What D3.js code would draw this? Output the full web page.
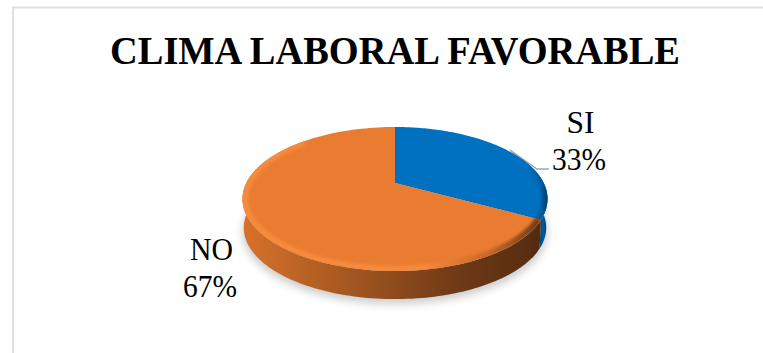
<!DOCTYPE html>
<html>
<head>
<meta charset="utf-8">
<script src="https://cdn.jsdelivr.net/npm/d3@7"></script>
<style>
html, body { margin: 0; padding: 0; background: #fff; }
svg { display: block; font-family: "Liberation Serif", serif; }
</style>
</head>
<body>
<svg id="chart" width="763" height="353"></svg>
<script>
const chartTitle = "CLIMA LABORAL FAVORABLE";
const categories = ["SI", "NO"];
const values = [33, 67];
const sliceColors = ["#0070c0", "#e97c30"];

const svg = d3.select("#chart");
const defs = svg.append("defs");

// Frame: top and left rules only
svg.append("path").attr("d", "M13 353V7.5H763").attr("fill", "none")
  .attr("stroke", "#e0e0e0").attr("stroke-width", 2);

svg.append("text").attr("x", 395).attr("y", 64).attr("text-anchor", "middle")
  .attr("font-size", 40).attr("font-weight", "bold").attr("fill", "#000")
  .attr("textLength", 570).attr("lengthAdjust", "spacingAndGlyphs").text(chartTitle);

// Pie lying on its back, seen in perspective: the hub sits above the ellipse centre
const hub = { x: 395, y: 183 };
const yFar = -56, yNear = 88;
const k = (yFar + yNear) / (yNear - yFar);
const a = yNear * (1 - k);
const c = 152.5 * Math.sqrt(1 - k * k);
const depth = 29;

function rimPoint(theta, drop = 0, scale = 1) {
  const u = Math.sin(theta) * scale, v = -Math.cos(theta) * scale;
  const w = 1 - k * v;
  return [hub.x + c * u / w, hub.y + a * v / w + drop];
}
const line = d3.line();
const arcAngles = (t0, t1) => d3.range(0, 121).map(i => t0 + (t1 - t0) * i / 120);

const arcs = d3.pie().sort(null).value(d => d)(values);
const TAU = Math.PI * 2;

// Soft shadow under the disc
defs.append("filter").attr("id", "soft").attr("x", "-20%").attr("y", "-20%")
  .attr("width", "140%").attr("height", "140%")
  .append("feGaussianBlur").attr("stdDeviation", 4);
svg.append("path")
  .attr("d", line(arcAngles(0, TAU).map(t => rimPoint(t, depth + 4, 1))) + "Z")
  .attr("fill", "#000").attr("opacity", 0.2).attr("filter", "url(#soft)");

// Side wall gradients, shaded left to right
function wallGradient(id, stops) {
  const g = defs.append("linearGradient").attr("id", id)
    .attr("gradientUnits", "userSpaceOnUse")
    .attr("x1", 243).attr("x2", 548).attr("y1", 0).attr("y2", 0);
  stops.forEach(([o, col]) => g.append("stop").attr("offset", o).attr("stop-color", col));
}
wallGradient("wall-0", [[0.9, "#003a66"], [0.965, "#003f6e"], [0.985, "#005a9c"], [1, "#003a66"]]);
wallGradient("wall-1", [[0, "#d9702a"], [0.1, "#c96a28"], [0.4, "#9c5320"], [0.7, "#6f3a16"], [1, "#522a10"]]);

function wallPath(t0, t1) {
  const angles = arcAngles(t0, t1);
  const top = angles.map(t => rimPoint(t));
  const bottom = angles.slice().reverse().map(t => rimPoint(t, depth, 0.992));
  return line(top.concat(bottom)) + "Z";
}

// Only the near half of the wall can be seen: from the right extreme round to the left
const rightExtreme = Math.PI / 2 - 0.22, leftExtreme = TAU - rightExtreme;

// Leader from the SI slice to its label, running along the rim behind the disc
const leaderStart = rimPoint((arcs[0].startAngle + arcs[0].endAngle) / 2, -1.5);
svg.append("path")
  .attr("d", line([leaderStart, [537, 169], [549, 169]]))
  .attr("fill", "none").attr("stroke", "#a6a6a6").attr("stroke-width", 1.5);

svg.selectAll("path.wall").data(arcs).join("path").attr("class", "wall")
  .attr("d", d => wallPath(Math.max(d.startAngle, rightExtreme), Math.min(d.endAngle, leftExtreme)))
  .attr("fill", (d, i) => `url(#wall-${i})`);

// Top face
function slicePath(d) {
  return line([[hub.x, hub.y]].concat(arcAngles(d.startAngle, d.endAngle).map(t => rimPoint(t)))) + "Z";
}
svg.selectAll("path.slice").data(arcs).join("path").attr("class", "slice")
  .attr("d", slicePath).attr("fill", (d, i) => sliceColors[i]);

// Rounded bevel along the near rim: a light band with a dark fall-off on the right
defs.append("filter").attr("id", "bevel-blur").append("feGaussianBlur").attr("stdDeviation", 1.6);
defs.append("clipPath").attr("id", "disc-clip").append("path")
  .attr("d", line(arcAngles(0, TAU).map(t => rimPoint(t))) + "Z");
const bevel = defs.append("linearGradient").attr("id", "bevel-orange")
  .attr("gradientUnits", "userSpaceOnUse").attr("x1", 243).attr("x2", 540).attr("y1", 0).attr("y2", 0);
[[0, "#f68a3e"], [0.6, "#f68a3e"], [0.82, "#c9692a"], [1, "#6f3a16"]]
  .forEach(([o, col]) => bevel.append("stop").attr("offset", o).attr("stop-color", col));
const bevelBlue = defs.append("linearGradient").attr("id", "bevel-blue")
  .attr("gradientUnits", "userSpaceOnUse").attr("x1", 525).attr("x2", 548).attr("y1", 0).attr("y2", 0);
[[0, "#0070c0"], [0.75, "#005a9c"], [1, "#003259"]]
  .forEach(([o, col]) => bevelBlue.append("stop").attr("offset", o).attr("stop-color", col));

const rims = svg.append("g").attr("clip-path", "url(#disc-clip)");
rims.selectAll("path").data(arcs).join("path")
  .attr("d", d => line(arcAngles(Math.max(d.startAngle, 1.2), Math.min(d.endAngle, TAU - 0.8)).map(t => rimPoint(t, 0, 0.985))))
  .attr("fill", "none")
  .attr("stroke", (d, i) => i ? "url(#bevel-orange)" : "url(#bevel-blue)")
  .attr("stroke-width", 7).attr("filter", "url(#bevel-blur)");

// Category and percentage labels: each row is centre x, baseline, fitted width
const nameRows = [[580.5, 133, 28], [211.5, 260, 43]];
const shareRows = [[579, 170, 54], [210, 297, 54]];
arcs.forEach((d, i) => {
  const rows = [[nameRows[i], categories[i]], [shareRows[i], d3.format(".0%")(values[i] / d3.sum(values))]];
  rows.forEach(([[x, y, w], text]) => {
    svg.append("text").attr("x", x).attr("y", y).attr("text-anchor", "middle")
      .attr("font-size", 32).attr("fill", "#000")
      .attr("textLength", w).attr("lengthAdjust", "spacingAndGlyphs").text(text);
  });
});
</script>
</body>
</html>
